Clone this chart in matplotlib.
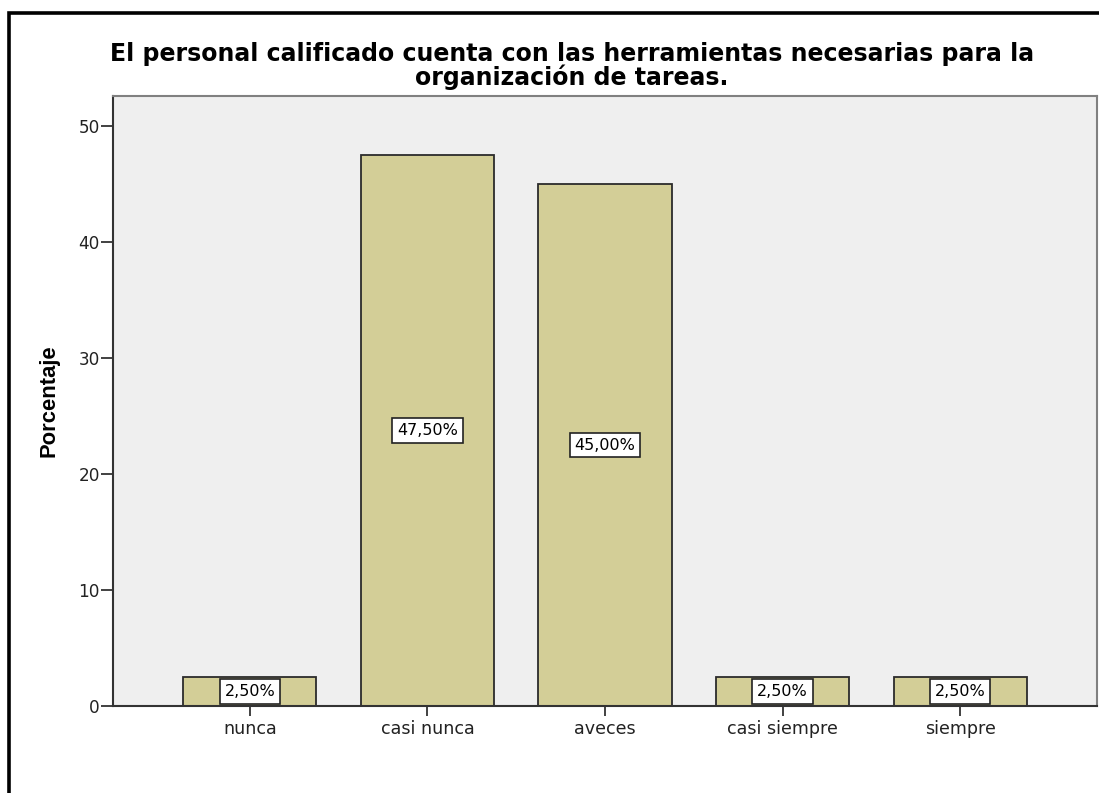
import matplotlib
matplotlib.use("Agg")
import matplotlib.pyplot as plt
from matplotlib.patches import Rectangle

categories = ["nunca", "casi nunca", "aveces", "casi siempre", "siempre"]
percentages = [2.5, 47.5, 45.0, 2.5, 2.5]
value_labels = ["2,50%", "47,50%", "45,00%", "2,50%", "2,50%"]
yticks = [0, 10, 20, 30, 40, 50]

title = ("El personal calificado cuenta con las herramientas necesarias para la\n"
         "organización de tareas.")

plt.rcParams["font.family"] = ["DejaVu Sans"]

W, H = 1099, 793
fig = plt.figure(figsize=(W / 100, H / 100), dpi=100)
fig.patch.set_facecolor("white")

ax = fig.add_axes([113 / W, 1 - 706 / H, (1097 - 113) / W, (706 - 96) / H])
ax.set_facecolor("#EFEFEF")

x = list(range(len(categories)))
ax.bar(x, percentages, width=0.75, color="#D3CE97", edgecolor="#2b2b2b",
       linewidth=1.3, zorder=2)

for xi, v, lab in zip(x, percentages, value_labels):
    ax.text(xi, v / 2, lab, ha="center", va="center", fontsize=11.5,
            color="black", zorder=4,
            bbox=dict(boxstyle="square,pad=0.3", facecolor="white",
                      edgecolor="#222222", linewidth=1.2))

ax.set_xlim(-0.77, len(categories) - 1 + 0.77)
ax.set_ylim(0, 52.6)
ax.set_yticks(yticks)
ax.set_yticklabels([str(t) for t in yticks])
ax.set_xticks(x)
ax.set_xticklabels(categories)
ax.tick_params(axis="y", direction="out", length=9, width=1.3, pad=0.5,
               labelsize=12.2, color="#333333", labelcolor="#222222")
ax.tick_params(axis="x", direction="out", length=7, width=1.3, pad=3,
               labelsize=12.6, color="#333333", labelcolor="#222222")

for side in ("left", "bottom"):
    ax.spines[side].set_color("#333333")
    ax.spines[side].set_linewidth(1.5)
for side in ("top", "right"):
    ax.spines[side].set_color("#808080")
    ax.spines[side].set_linewidth(1.5)

ax.set_ylabel("Porcentaje", fontsize=15.8, fontweight="bold",
              family="Liberation Sans", va="center")
ax.yaxis.set_label_coords((49 - 113) / (1097 - 113), 0.5)

# two-line title, tightly spaced
fig.text(572 / W, 1 - 66 / H, title, ha="center", va="center",
         fontsize=17.0, fontweight="bold", color="black", linespacing=0.95)

# outer chart frame
frame = Rectangle((9 / W, -0.1), 1.2, 1.1 - 13 / H, transform=fig.transFigure,
                  fill=False, edgecolor="black", linewidth=2.6, clip_on=False)
fig.patches.append(frame)

fig.savefig("out.png", dpi=100)
